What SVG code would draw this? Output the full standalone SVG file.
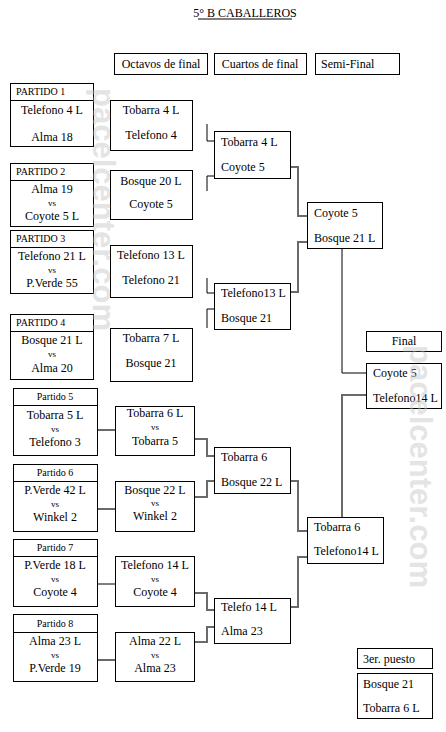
<svg xmlns="http://www.w3.org/2000/svg" width="446" height="732" viewBox="0 0 446 732">
<style>
  .b{fill:#fff;stroke:#000;stroke-width:1}
  .t{font-family:"Liberation Serif","Times New Roman",serif;font-size:12px;fill:#000}
  .s{font-family:"Liberation Serif","Times New Roman",serif;font-size:9px;fill:#000}
  .h{font-family:"Liberation Serif","Times New Roman",serif;font-size:10px;fill:#000}
  .m{text-anchor:middle}
  .c{fill:none;stroke:#000;stroke-width:1}
  .g{fill:none;stroke:#6a6a6a;stroke-width:2}
  .w{font-family:"Liberation Sans",Arial,sans-serif;font-size:31px;font-weight:bold;fill:#c4c4c4;opacity:0.45}
</style>
<rect width="446" height="732" fill="#fff"/>
<g id="title">
  <text class="t m" x="245" y="17">5° B CABALLEROS</text>
  <line x1="198" y1="19" x2="292" y2="19" stroke="#000" stroke-width="1"/>
</g>
<g id="hdr-octavos"><rect class="b" x="114.5" y="53.5" width="93" height="21"/><text class="t m" x="161" y="68">Octavos de final</text></g>
<g id="hdr-cuartos"><rect class="b" x="214.5" y="53.5" width="92" height="21"/><text class="t m" x="260" y="68">Cuartos de final</text></g>
<g id="hdr-semi"><rect class="b" x="315.5" y="53.5" width="84" height="21"/><text class="t" x="321" y="68">Semi-Final</text></g>

<g id="connectors">
  <path class="c" d="M207 124V141H214"/>
  <path class="c" d="M214 176H207V191"/>
  <path class="g" d="M290 167H298V216H307"/>
  <path class="g" d="M290 292H298V242H307"/>
  <path class="c" d="M207 278V293H214"/>
  <path class="c" d="M214 309H207V328"/>
  <path class="c" d="M342 248V373H366"/>
  <path class="g" d="M366 395H342V517"/>
  <path class="g" d="M97 430H115"/>
  <path class="g" d="M97 509H115"/>
  <path class="c" d="M97 584H115"/>
  <path class="g" d="M97 660H115"/>
  <path class="g" d="M194 439H207V456H214"/>
  <path class="g" d="M194 497H207V481H214"/>
  <path class="g" d="M290 481H298V531H307"/>
  <path class="g" d="M194 593H207V610H214"/>
  <path class="g" d="M194 642H207V627H214"/>
  <path class="g" d="M290 607H298V557H307"/>
</g>

<g id="partido1"><rect class="b" x="10.5" y="83.5" width="83" height="63"/><line class="c" x1="10" y1="100.5" x2="94" y2="100.5"/>
  <text class="h" x="16" y="95">PARTIDO 1</text><text class="t m" x="52" y="114">Telefono 4 L</text><text class="t m" x="52" y="141">Alma 18</text></g>
<g id="partido2"><rect class="b" x="10.5" y="163.5" width="83" height="63"/><line class="c" x1="10" y1="180.5" x2="94" y2="180.5"/>
  <text class="h" x="16" y="175">PARTIDO 2</text><text class="t m" x="52" y="193">Alma 19</text><text class="s m" x="52" y="206">vs</text><text class="t m" x="52" y="220">Coyote 5 L</text></g>
<g id="partido3"><rect class="b" x="10.5" y="230.5" width="83" height="63"/><line class="c" x1="10" y1="247.5" x2="94" y2="247.5"/>
  <text class="h" x="16" y="242">PARTIDO 3</text><text class="t m" x="52" y="260">Telefono 21 L</text><text class="s m" x="52" y="273">vs</text><text class="t m" x="52" y="287">P.Verde 55</text></g>
<g id="partido4"><rect class="b" x="10.5" y="314.5" width="83" height="65"/><line class="c" x1="10" y1="331.5" x2="94" y2="331.5"/>
  <text class="h" x="16" y="326">PARTIDO 4</text><text class="t m" x="52" y="344">Bosque 21  L</text><text class="s m" x="52" y="357">vs</text><text class="t m" x="52" y="372">Alma 20</text></g>

<g id="octavos1"><rect class="b" x="110.5" y="100.5" width="82" height="50"/><text class="t m" x="151" y="114">Tobarra 4 L</text><text class="t m" x="151" y="139">Telefono 4</text></g>
<g id="octavos2"><rect class="b" x="110.5" y="170.5" width="82" height="49"/><text class="t m" x="151" y="185">Bosque 20 L</text><text class="t m" x="151" y="208">Coyote 5</text></g>
<g id="octavos3"><rect class="b" x="110.5" y="245.5" width="82" height="52"/><text class="t m" x="151" y="259">Telefono 13 L</text><text class="t m" x="151" y="284">Telefono 21</text></g>
<g id="octavos4"><rect class="b" x="110.5" y="328.5" width="82" height="53"/><text class="t m" x="151" y="342">Tobarra 7 L</text><text class="t m" x="151" y="367">Bosque 21</text></g>

<g id="partido5"><rect class="b" x="13.5" y="388.5" width="84" height="67"/><line class="c" x1="13" y1="405.5" x2="98" y2="405.5"/>
  <text class="h m" x="55" y="400">Partido 5</text><text class="t m" x="55" y="419">Tobarra 5 L</text><text class="s m" x="55" y="432">vs</text><text class="t m" x="55" y="446">Telefono 3</text></g>
<g id="partido6"><rect class="b" x="13.5" y="464.5" width="84" height="67"/><line class="c" x1="13" y1="481.5" x2="98" y2="481.5"/>
  <text class="h m" x="55" y="476">Partido 6</text><text class="t m" x="55" y="494">P.Verde 42 L</text><text class="s m" x="55" y="507">vs</text><text class="t m" x="55" y="521">Winkel 2</text></g>
<g id="partido7"><rect class="b" x="13.5" y="539.5" width="84" height="67"/><line class="c" x1="13" y1="556.5" x2="98" y2="556.5"/>
  <text class="h m" x="55" y="551">Partido 7</text><text class="t m" x="55" y="569">P.Verde 18 L</text><text class="s m" x="55" y="582">vs</text><text class="t m" x="55" y="596">Coyote 4</text></g>
<g id="partido8"><rect class="b" x="13.5" y="614.5" width="84" height="67"/><line class="c" x1="13" y1="632.5" x2="98" y2="632.5"/>
  <text class="h m" x="55" y="627">Partido 8</text><text class="t m" x="55" y="645">Alma 23  L</text><text class="s m" x="55" y="658">vs</text><text class="t m" x="55" y="672">P.Verde 19</text></g>

<g id="octavos5"><rect class="b" x="115.5" y="406.5" width="79" height="49"/><text class="t m" x="155" y="417">Tobarra 6 L</text><text class="s m" x="155" y="430">vs</text><text class="t m" x="155" y="445">Tobarra 5</text></g>
<g id="octavos6"><rect class="b" x="115.5" y="481.5" width="79" height="50"/><text class="t m" x="155" y="494">Bosque 22 L</text><text class="s m" x="155" y="506">vs</text><text class="t m" x="155" y="520">Winkel 2</text></g>
<g id="octavos7"><rect class="b" x="115.5" y="556.5" width="79" height="50"/><text class="t m" x="155" y="569">Telefono 14 L</text><text class="s m" x="155" y="582">vs</text><text class="t m" x="155" y="596">Coyote 4</text></g>
<g id="octavos8"><rect class="b" x="115.5" y="632.5" width="79" height="49"/><text class="t m" x="155" y="645">Alma 22 L</text><text class="s m" x="155" y="658">vs</text><text class="t m" x="155" y="672">Alma 23</text></g>

<g id="cuartos1"><rect class="b" x="214.5" y="131.5" width="76" height="47"/><text class="t" x="221" y="146">Tobarra 4 L</text><text class="t" x="221" y="171">Coyote 5</text></g>
<g id="cuartos2"><rect class="b" x="214.5" y="283.5" width="76" height="46"/><text class="t" x="221" y="297">Telefono13 L</text><text class="t" x="221" y="322">Bosque 21</text></g>
<g id="cuartos3"><rect class="b" x="214.5" y="447.5" width="76" height="46"/><text class="t" x="221" y="461">Tobarra 6</text><text class="t" x="221" y="486">Bosque 22 L</text></g>
<g id="cuartos4"><rect class="b" x="214.5" y="598.5" width="76" height="45"/><text class="t" x="221" y="611">Telefo 14 L</text><text class="t" x="221" y="635">Alma 23</text></g>

<g id="semi1"><rect class="b" x="307.5" y="202.5" width="75" height="46"/><text class="t" x="314" y="217">Coyote 5</text><text class="t" x="314" y="242">Bosque 21 L</text></g>
<g id="semi2"><rect class="b" x="307.5" y="517.5" width="76" height="46"/><text class="t" x="314" y="531">Tobarra 6</text><text class="t" x="314" y="555">Telefono14 L</text></g>

<g id="final-label"><rect class="b" x="366.5" y="331.5" width="75" height="20"/><text class="t m" x="404" y="345">Final</text></g>
<g id="final"><rect class="b" x="366.5" y="363.5" width="75" height="45"/><text class="t" x="373" y="377">Coyote 5</text><text class="t" x="373" y="402">Telefono14 L</text></g>

<g id="tercer-label"><rect class="b" x="357.5" y="648.5" width="75" height="20"/><text class="t" x="363" y="663">3er. puesto</text></g>
<g id="tercer"><rect class="b" x="357.5" y="673.5" width="75" height="45"/><text class="t" x="363" y="688">Bosque 21</text><text class="t" x="363" y="712">Tobarra 6 L</text></g>

<g id="watermark">
  <text class="w" transform="translate(93 88) rotate(90)">pacelcenter.com</text>
  <text class="w" transform="translate(410 345) rotate(90)">pacelcenter.com</text>
</g>
</svg>
